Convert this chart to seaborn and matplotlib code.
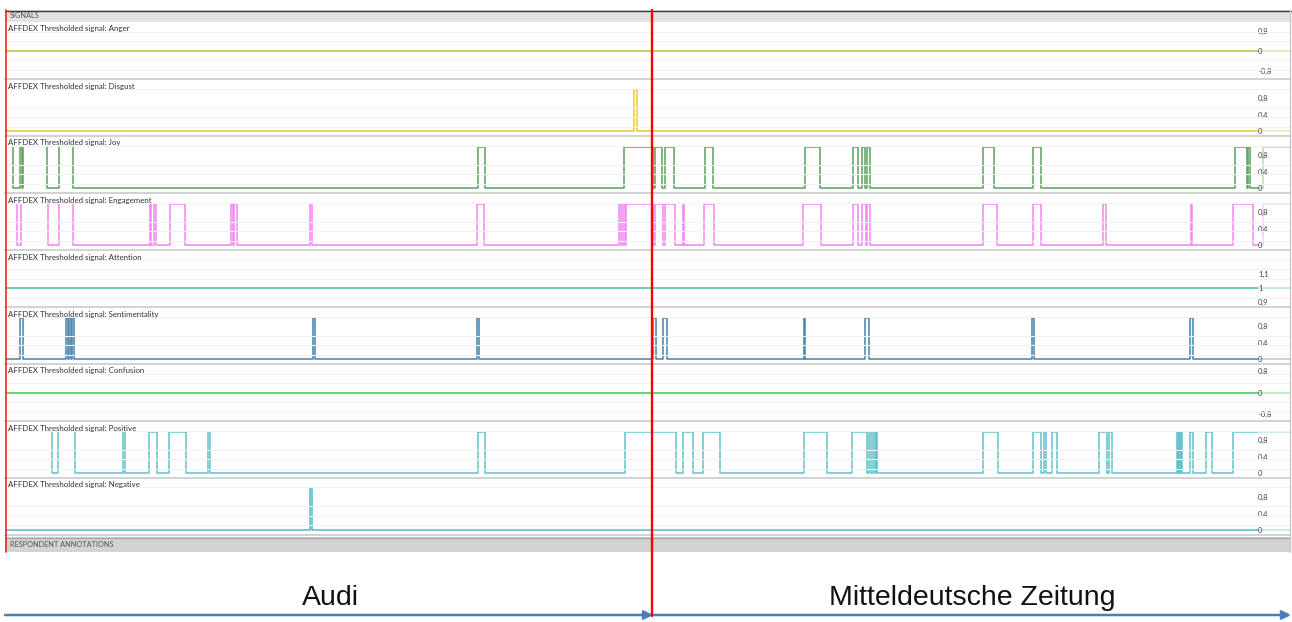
import numpy as np
import pandas as pd
import matplotlib
matplotlib.use("Agg")
import matplotlib.pyplot as plt
import seaborn as sns
from matplotlib.patches import Rectangle, FancyArrowPatch
from matplotlib.lines import Line2D
from matplotlib.ticker import FuncFormatter, FixedLocator

# ---------------- data (time axis in screen-time units, 5 .. 1292) ----------------
names = ["Anger", "Disgust", "Joy", "Engagement", "Attention",
         "Sentimentality", "Confusion", "Positive", "Negative"]
colors = ["#b4bf30", "#e6c42a", "#4e9a52", "#f07cf0", "#30bca2",
          "#357ba6", "#38c446", "#58bec6", "#45b5be"]
baselines = [0, 0, 0, 0, 1, 0, 0, 0, 0]

anger_on = []
disgust_on = [[634, 637]]
joy_on = [[20, 22], [478, 485], [624, 653], [655, 662], [665, 674], [705, 713],
          [805, 820], [853, 858], [862, 865], [867, 870], [983, 994], [1033, 1041],
          [1235, 1247], [1248, 1250], [1263, 1292]]
joy_gap = [[5, 13], [23, 47], [59, 73]]
engagement_on = [[150, 151], [154, 156], [170, 185], [231, 233], [234, 237],
                 [310, 312], [477, 484], [619, 621], [623, 625], [626, 653],
                 [655, 663], [665, 675], [683, 684], [704, 714], [803, 821],
                 [853, 858], [862, 866], [867, 870], [983, 997], [1033, 1041],
                 [1103, 1106], [1191, 1192], [1233, 1253], [1263, 1292]]
engagement_gap = [[5, 17], [21, 48], [59, 73]]
attention_on = []
sentiment_on = [[20, 23], [66, 68], [69, 71], [72, 74], [313, 315], [477, 479],
                [653, 656], [663, 667], [804, 805], [865, 869], [1032, 1034],
                [1190, 1193]]
confusion_on = []
positive_on = [[123, 125], [149, 157], [169, 186], [208, 210], [478, 485],
               [625, 676], [683, 693], [703, 720], [804, 827], [852, 867],
               [869, 871], [873, 875], [876, 877], [983, 998], [1033, 1041],
               [1044, 1046], [1052, 1057], [1099, 1107], [1109, 1112],
               [1177, 1178], [1179, 1180], [1181, 1182], [1190, 1193],
               [1206, 1212], [1233, 1292]]
positive_gap = [[5, 52], [58, 75]]
negative_on = [[310, 312]]

on_lists = [anger_on, disgust_on, joy_on, engagement_on, attention_on,
            sentiment_on, confusion_on, positive_on, negative_on]
gap_lists = [[], [], joy_gap, engagement_gap, [], [], [], positive_gap, []]

ylims = [(-1.14, 1.14), (-0.12, 1.26), (-0.12, 1.26), (-0.12, 1.26), (0.86, 1.28),
         (-0.12, 1.26), (-1.04, 1.04), (-0.12, 1.26), (-0.12, 1.26)]
ticks = [[-0.8, 0, 0.8], [0, 0.4, 0.8], [0, 0.4, 0.8], [0, 0.4, 0.8], [0.9, 1, 1.1],
         [0, 0.4, 0.8], [-0.8, 0, 0.8], [0, 0.4, 0.8], [0, 0.4, 0.8]]

T0, T1 = 5, 1292


def build_segments(on, gap, base):
    events = sorted([(a, b, False) for a, b in on] + [(a, b, True) for a, b in gap])
    hi = base + 1
    segs = []
    xs, ys = [T0], [base]
    for a, b, hid in events:
        if a <= T0:
            xs, ys = ([b, b], [hi, base]) if hid else ([T0, b, b], [hi, hi, base])
            continue
        xs += [a, a]
        ys += [base, hi]
        if hid:
            segs.append((xs, ys))
            xs, ys = [b, b], [hi, base]
        elif b >= T1:
            xs += [T1]
            ys += [hi]
            segs.append((xs, ys))
            xs, ys = [], []
        else:
            xs += [b, b]
            ys += [hi, base]
    if xs:
        xs.append(T1)
        ys.append(base)
        segs.append((xs, ys))
    return segs


# ---------------- figure ----------------
sns.set_theme(style="white")
plt.rcParams["font.family"] = ["Lato", "DejaVu Sans"]

W, H = 1292, 622
fig = plt.figure(figsize=(W / 100, H / 100), dpi=100)
fig.patch.set_facecolor("white")


def fx(px):
    return px / W


def fy(py):
    return 1 - py / H


ROW0, ROWH = 22, 57
fmt = FuncFormatter(lambda v, p: f"{v:g}".replace(".", ","))

for i, name in enumerate(names):
    top = ROW0 + ROWH * i
    ax = fig.add_axes([fx(5), fy(top + ROWH), fx(1290) - fx(5), ROWH / H])
    ax.set_facecolor("white")
    ax.set_axisbelow(False)
    ax.set_xlim(5, 1290)
    ax.set_ylim(*ylims[i])
    for s in ax.spines.values():
        s.set_visible(False)
    lo, hi = ylims[i]
    ax.yaxis.set_minor_locator(FixedLocator(np.linspace(lo, hi, 7)[1:-1]))
    ax.grid(True, axis="y", which="minor", color="#f2f2f2", lw=0.8)
    ax.grid(False, which="major")
    for xs, ys in build_segments(on_lists[i], gap_lists[i], baselines[i]):
        df = pd.DataFrame({"t": xs, "v": ys})
        sns.lineplot(data=df, x="t", y="v", ax=ax, sort=False, estimator=None,
                     color=colors[i], lw=1.15, alpha=0.9, zorder=2)
    ax.set_xlabel("")
    ax.set_ylabel("")
    ax.set_xticks([])
    ax.yaxis.tick_right()
    ax.set_yticks(ticks[i])
    ax.yaxis.set_major_formatter(fmt)
    ax.tick_params(axis="y", which="both", length=0, pad=-23, labelsize=5.5,
                   labelcolor="#444444")
    ax.add_patch(Rectangle((1258, 0), 40, 1, transform=ax.get_xaxis_transform(),
                           facecolor="white", alpha=0.6, lw=0, zorder=2.3))
    ax.text(8, 1 - 7 / ROWH, f"AFFDEX Thresholded signal: {name}",
            transform=ax.get_xaxis_transform(), ha="left", va="center",
            fontsize=5.7, color="#333333", zorder=3)
    # separator below each row
    fig.add_artist(Line2D([fx(5), fx(1290)], [fy(top + ROWH)] * 2,
                          color="#d2d2d2", lw=1.4))

# header bars
fig.add_artist(Rectangle((fx(5), fy(22)), fx(1290) - fx(5), 12 / H,
                         transform=fig.transFigure, facecolor="#e2e2e2", lw=0))
fig.add_artist(Line2D([fx(5), fx(1291)], [fy(10.5)] * 2, color="#3a3a3a", lw=1.0))
fig.text(fx(10), fy(16), "SIGNALS", fontsize=5.3, color="#555555", va="center")
fig.add_artist(Rectangle((fx(5), fy(552)), fx(1290) - fx(5), 15 / H,
                         transform=fig.transFigure, facecolor="#d3d3d3", lw=0))
fig.add_artist(Line2D([fx(5), fx(1290)], [fy(537.5)] * 2, color="#a8a8a8", lw=1.0))
fig.text(fx(10), fy(544.5), "RESPONDENT ANNOTATIONS", fontsize=5.3, color="#555555",
         va="center")
fig.add_artist(Line2D([fx(1290)] * 2, [fy(10), fy(552)], color="#c8c8c8", lw=1.0))

# red markers
fig.add_artist(Line2D([fx(5.5)] * 2, [fy(10), fy(552)], color="#ff2020", lw=1.2,
                      zorder=10))
fig.add_artist(Line2D([fx(652)] * 2, [fy(10), fy(616)], color="#ff0000", lw=1.7,
                      zorder=10))

# arrows and segment labels
arrow_color = "#4a7ebb"
for x0, x1 in [(5, 653), (653, 1291)]:
    fig.add_artist(FancyArrowPatch((fx(x0), fy(615)), (fx(x1), fy(615)),
                                   transform=fig.transFigure, arrowstyle="-|>",
                                   mutation_scale=13, color=arrow_color, lw=1.8,
                                   shrinkA=0, shrinkB=0))
fig.text(fx(330), fy(598), "Audi", ha="center", va="center", fontsize=20.5,
         family=["Liberation Sans", "DejaVu Sans"], color="#111111")
fig.text(fx(972), fy(598), "Mitteldeutsche Zeitung", ha="center", va="center",
         fontsize=20.5, family=["Liberation Sans", "DejaVu Sans"], color="#111111")

fig.savefig("out.png", dpi=100, facecolor="white")
